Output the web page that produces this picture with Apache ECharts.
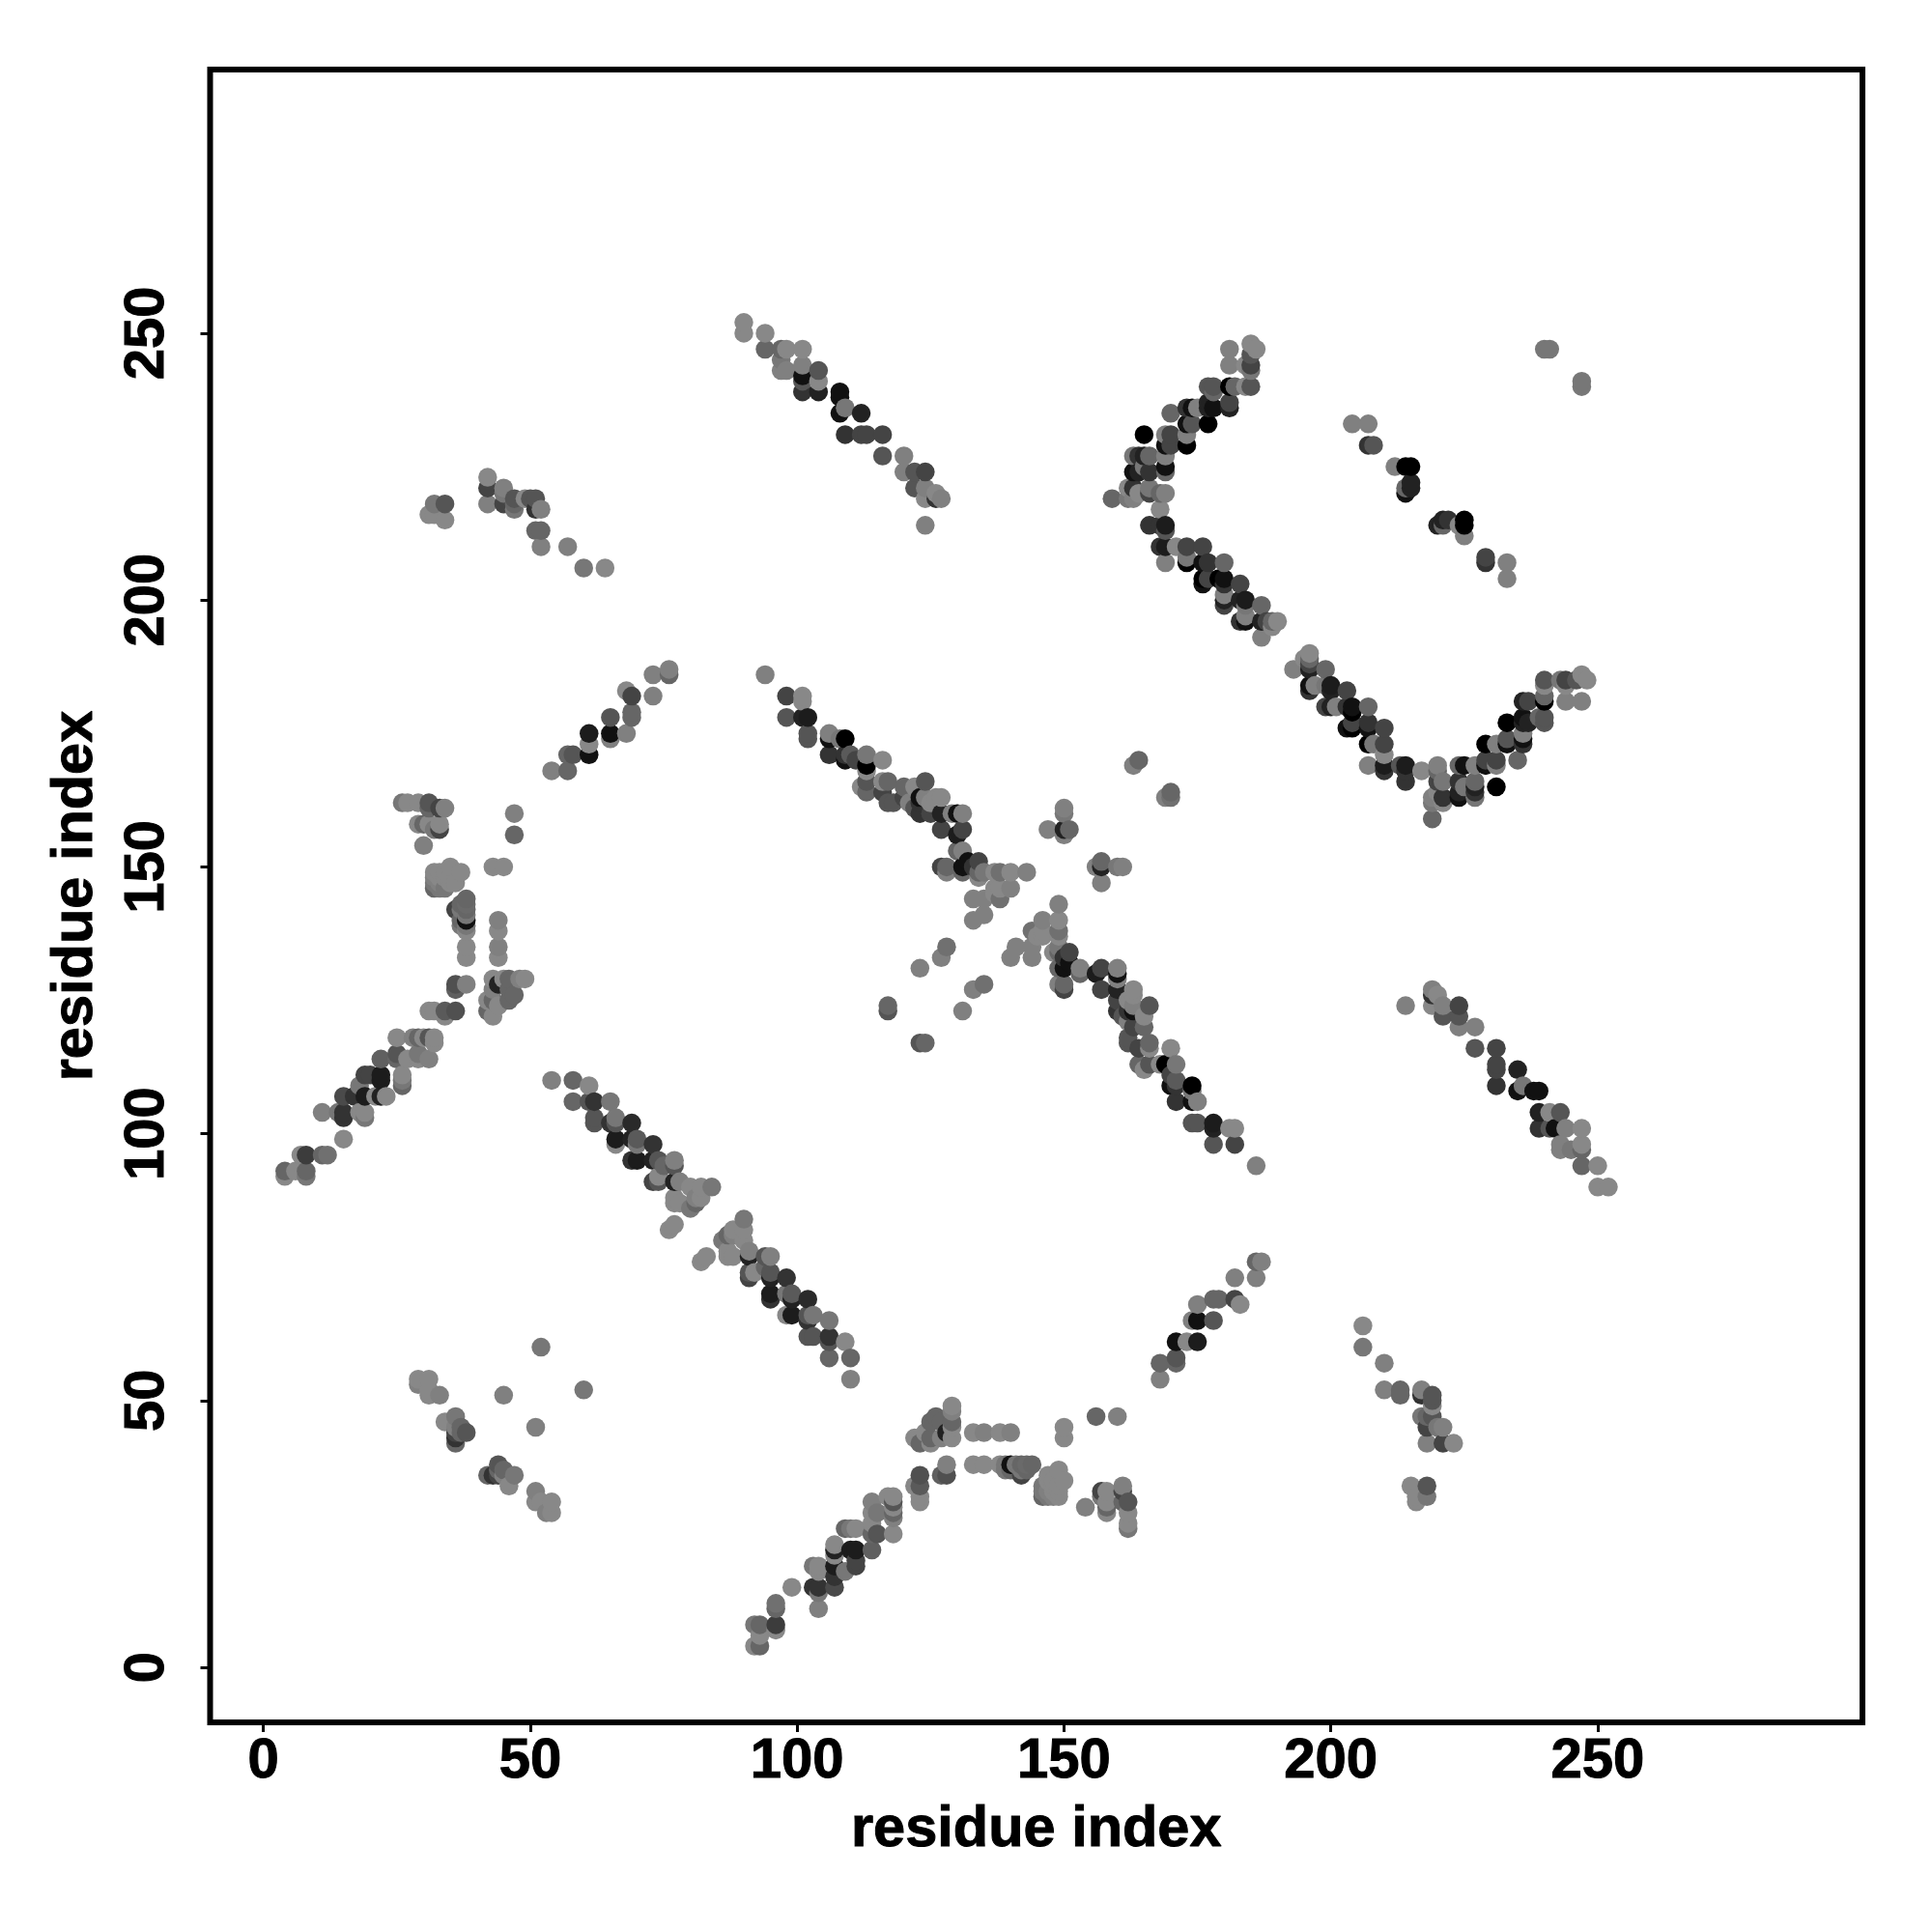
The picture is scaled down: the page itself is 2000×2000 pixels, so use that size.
<!DOCTYPE html>
<html><head><meta charset="utf-8">
<style>html,body{margin:0;background:#fff}#c{width:2000px;height:2000px}</style>
<script src="https://cdn.jsdelivr.net/npm/echarts@6/dist/echarts.min.js"></script>
</head><body><div id="c"></div>
<script>
const tickValues = [0,50,100,150,200,250];
const axisTitle = 'residue index';
// each contact: [residue i, residue j, score]
const leftBand = [[4,92,136],[4,93,102],[6,93,136],[7,96,136],[8,92,119],[8,93,102],[8,96,60],[11,96,102],[12,96,112],[15,99,136],[11,104,128],[14,104,119],[15,103,51],[15,104,51],[15,107,74],[18,104,136],[19,103,119],[19,104,136],[18,109,119],[19,111,68],[17,107,51],[19,107,28],[21,107,136],[22,107,34],[23,107,136],[20,111,68],[22,110,28],[22,111,28],[22,114,96],[26,109,102],[26,110,119],[26,111,136],[25,114,102],[25,115,85],[27,114,136],[29,114,136],[29,115,119],[31,114,128],[25,118,136],[28,118,128],[29,118,102],[30,118,136],[31,118,85],[32,117,136],[32,118,136],[31,123,136],[32,123,136],[34,122,136],[34,123,90],[36,123,80],[36,127,96],[36,128,80],[38,128,128],[38,133,136],[38,135,136],[38,138,136],[38,139,119],[37,139,119],[38,140,17],[38,141,119],[38,142,102],[37,142,119],[37,143,102],[38,143,106],[38,144,102],[36,142,68],[37,140,102],[32,146,102],[32,147,119],[32,148,128],[32,149,136],[33,146,119],[33,147,128],[33,148,136],[33,149,136],[34,146,119],[34,148,136],[34,149,136],[35,147,136],[35,148,136],[36,147,136],[35,150,136],[37,149,136],[43,150,136],[45,150,136],[44,133,136],[44,135,128],[44,138,136],[44,140,128],[43,129,136],[44,128,34],[45,129,136],[46,129,102],[48,129,128],[49,129,136],[46,125,102],[46,127,102],[47,126,102],[42,125,136],[43,125,102],[42,123,102],[43,122,136],[44,124,136],[43,127,128],[26,162,119],[27,162,136],[29,162,136],[31,162,85],[31,161,102],[33,161,68],[34,161,128],[29,158,136],[30,158,102],[31,158,136],[33,158,136],[33,157,68],[32,157,119],[30,154,128],[47,160,128],[47,156,102]];
const bottomBand = [[92,4,136],[93,4,102],[93,6,136],[96,7,136],[92,8,119],[93,8,102],[96,8,60],[96,11,102],[96,12,112],[99,15,136],[104,11,128],[104,14,119],[103,15,51],[104,15,51],[107,15,74],[104,18,136],[103,19,119],[104,19,136],[109,18,119],[111,19,68],[107,17,51],[107,19,28],[107,21,136],[107,22,34],[107,23,136],[111,20,68],[110,22,28],[111,22,28],[114,22,96],[109,26,102],[110,26,119],[111,26,136],[114,25,102],[115,25,85],[114,27,136],[114,29,136],[115,29,119],[114,31,128],[118,25,136],[118,28,128],[118,29,102],[118,30,136],[118,31,85],[117,32,136],[118,32,136],[123,31,136],[123,32,136],[122,34,136],[123,34,90],[123,36,80],[127,36,96],[128,36,80],[128,38,128],[133,38,136],[135,38,136],[138,38,136],[139,38,119],[139,37,119],[140,38,17],[141,38,119],[142,38,102],[142,37,119],[143,37,102],[143,38,106],[144,38,102],[142,36,68],[140,37,102],[146,32,102],[147,32,119],[148,32,128],[149,32,136],[146,33,119],[147,33,128],[148,33,136],[149,33,136],[146,34,119],[148,34,136],[149,34,136],[147,35,136],[148,35,136],[147,36,136],[150,35,136],[149,37,136],[150,43,136],[150,45,136],[133,44,136],[135,44,128],[138,44,136],[140,44,128],[129,43,136],[128,44,34],[129,45,136],[129,46,102],[129,48,128],[129,49,136],[125,46,102],[127,46,102],[126,47,102],[125,42,136],[125,43,102],[123,42,102],[122,43,136],[124,44,136],[127,43,128],[162,26,119],[162,27,136],[162,29,136],[162,31,85],[161,31,102],[161,33,68],[161,34,128],[158,29,136],[158,30,102],[158,31,136],[158,33,136],[157,33,68],[157,32,119],[154,30,128],[160,47,128],[156,47,102]];
const shortBand = [[54,168,128],[57,168,102],[57,171,102],[58,171,85],[61,171,17],[61,173,136],[61,175,28],[65,174,128],[65,175,17],[65,178,85],[68,175,128],[69,178,102],[69,179,102],[68,183,136],[69,182,68],[73,182,128],[73,186,128],[76,186,102],[76,187,128]];
const shortBandLower = [[168,54,128],[168,57,102],[171,57,102],[171,58,85],[171,61,17],[173,61,136],[175,61,28],[174,65,128],[175,65,17],[178,65,85],[175,68,128],[178,69,102],[179,69,102],[183,68,136],[182,69,68],[182,73,128],[186,73,128],[186,76,102],[187,76,128]];
const crossBandUpper = [[54,110,128],[58,110,102],[61,109,136],[58,106,102],[61,106,85],[62,106,51],[65,106,119],[62,103,85],[62,102,85],[65,102,51],[66,103,119],[66,102,85],[69,102,42],[66,99,28],[66,98,136],[69,99,34],[70,99,90],[70,98,119],[73,98,51],[69,95,51],[70,95,28],[73,95,34],[74,95,85],[75,94,102],[77,95,128],[77,94,85],[73,91,68],[74,92,136],[74,91,85],[77,91,34],[78,91,128],[80,90,136],[82,90,136],[84,90,119],[77,88,136],[78,87,136],[77,87,136],[80,86,119],[81,87,102],[81,88,128],[82,88,136],[77,83,136],[76,82,136]];
const crossBandLower = [[110,54,128],[110,58,102],[109,61,136],[106,58,102],[106,61,85],[106,62,51],[106,65,119],[103,62,85],[102,62,85],[102,65,51],[103,66,119],[102,66,85],[102,69,42],[99,66,28],[98,66,136],[99,69,34],[99,70,90],[98,70,119],[98,73,51],[95,69,51],[95,70,28],[95,73,34],[95,74,85],[94,75,102],[95,77,128],[94,77,85],[91,73,68],[92,74,136],[91,74,85],[91,77,34],[91,78,128],[90,80,136],[90,82,136],[90,84,119],[88,77,136],[87,78,136],[87,77,136],[86,80,119],[87,81,102],[88,81,128],[88,82,136],[83,77,136],[82,76,136]];
const centreBandUpper = [[94,186,128],[98,182,68],[101,182,136],[101,181,136],[98,178,85],[101,178,34],[102,178,28],[102,175,85],[102,174,85],[106,175,128],[106,174,17],[108,174,119],[109,174,0],[106,171,51],[109,170,17],[109,171,51],[110,171,90],[113,171,119],[113,169,0],[111,170,68],[113,168,136],[116,170,136],[112,165,136],[113,166,85],[113,164,102],[116,166,136],[117,166,102],[116,164,68],[117,162,85],[118,162,85],[120,165,102],[122,165,136],[124,166,85],[120,163,68],[121,162,128],[123,163,17],[123,162,51],[124,163,128],[123,160,51],[122,161,85],[126,163,136],[127,163,136],[125,162,136],[125,160,68],[127,160,34],[129,160,128],[130,160,17],[131,160,128],[127,157,68],[130,156,28],[131,157,68],[130,153,102],[131,153,128],[127,150,68],[128,150,102],[128,149,128],[131,150,17],[131,149,102],[132,151,17],[134,151,68],[133,150,51],[134,149,102],[135,149,119],[137,149,136],[138,149,112],[140,149,136],[143,149,128],[134,148,136],[137,146,136],[138,146,136],[140,146,128],[133,144,128],[135,144,128],[138,144,112],[137,145,136],[133,140,128],[135,141,128]];
const centreBandLower = [[186,94,128],[182,98,68],[182,101,136],[181,101,136],[178,98,85],[178,101,34],[178,102,28],[175,102,85],[174,102,85],[175,106,128],[174,106,17],[174,108,119],[174,109,0],[171,106,51],[170,109,17],[171,109,51],[171,110,90],[171,113,119],[169,113,0],[170,111,68],[168,113,136],[170,116,136],[165,112,136],[166,113,85],[164,113,102],[166,116,136],[166,117,102],[164,116,68],[162,117,85],[162,118,85],[165,120,102],[165,122,136],[166,124,85],[163,120,68],[162,121,128],[163,123,17],[162,123,51],[163,124,128],[160,123,51],[161,122,85],[163,126,136],[163,127,136],[162,125,136],[160,125,68],[160,127,34],[160,129,128],[160,130,17],[160,131,128],[157,127,68],[156,130,28],[157,131,68],[153,130,102],[153,131,128],[150,127,68],[150,128,102],[149,128,128],[150,131,17],[149,131,102],[151,132,17],[151,134,68],[150,133,51],[149,134,102],[149,135,119],[149,137,136],[149,138,112],[149,140,136],[149,143,128],[148,134,136],[146,137,136],[146,138,136],[146,140,128],[144,133,128],[144,135,128],[144,138,112],[145,137,136],[140,133,128],[141,135,128]];
const nearCentre = [[147,157,128],[150,161,128],[150,160,119],[150,157,34],[151,157,102],[150,156,128],[157,147,128],[161,150,128],[160,150,119],[157,150,34],[157,151,102],[156,150,128],[117,123,85],[117,124,102],[123,117,85],[124,117,102],[123,131,128],[127,133,128],[128,135,112],[131,123,128],[133,127,128],[135,128,112],[163,169,128],[164,170,102],[169,163,128],[170,164,102],[170,163,112]];
const farBandUpper = [[90,252,136],[90,250,136],[94,250,136],[94,247,102],[97,247,102],[98,247,136],[97,243,128],[97,245,119],[98,243,128],[101,247,136],[101,244,128],[101,242,17],[101,241,85],[101,239,51],[104,243,85],[104,239,34],[104,241,136],[108,239,17],[108,238,17],[108,235,17],[109,236,119],[112,235,34],[109,231,51],[112,231,68],[113,231,68],[116,231,68],[116,227,85],[120,227,128],[120,224,128],[122,224,85],[124,224,68],[122,221,85],[124,221,128],[124,219,136],[126,220,136],[126,219,51],[127,219,128],[124,214,128]];
const farBandLower = [[252,90,136],[250,90,136],[250,94,136],[247,94,102],[247,97,102],[247,98,136],[243,97,128],[245,97,119],[243,98,128],[247,101,136],[244,101,128],[242,101,17],[241,101,85],[239,101,51],[243,104,85],[239,104,34],[241,104,136],[239,108,17],[238,108,17],[235,108,17],[236,109,119],[235,112,34],[231,109,51],[231,112,68],[231,113,68],[231,116,68],[227,116,85],[227,120,128],[224,120,128],[224,122,85],[224,124,68],[221,122,85],[221,124,128],[219,124,136],[220,126,136],[219,126,51],[219,127,128],[214,124,128]];
const armUpper = [[185,248,136],[186,247,136],[181,247,128],[185,246,85],[181,244,128],[184,244,136],[185,244,68],[185,243,119],[185,240,85],[184,240,136],[182,240,102],[181,240,0],[178,240,85],[177,240,85],[178,239,102],[181,237,68],[181,236,34],[177,237,34],[178,236,17],[177,236,34],[177,233,0],[173,236,51],[174,236,17],[175,236,128],[170,235,102],[173,233,17],[174,233,85],[173,231,128],[173,229,0],[170,231,68],[169,231,128],[170,229,68],[169,229,17],[169,227,128],[169,225,17],[169,224,102],[166,227,102],[165,227,34],[164,227,51],[163,227,119],[163,224,17],[164,224,34],[165,225,119],[166,224,51],[162,221,136],[162,219,119],[163,221,51],[163,219,128],[159,219,102],[166,221,119],[166,220,68],[164,220,136],[168,220,102],[169,220,128],[168,217,136],[165,231,0]];
const armLower = [[248,185,136],[247,186,136],[247,181,128],[246,185,85],[244,181,128],[244,184,136],[244,185,68],[243,185,119],[240,185,85],[240,184,136],[240,182,102],[240,181,0],[240,178,85],[240,177,85],[239,178,102],[237,181,68],[236,181,34],[237,177,34],[236,178,17],[236,177,34],[233,177,0],[236,173,51],[236,174,17],[236,175,128],[235,170,102],[233,173,17],[233,174,85],[231,173,128],[229,173,0],[231,170,68],[231,169,128],[229,170,68],[229,169,17],[227,169,128],[225,169,17],[224,169,102],[227,166,102],[227,165,34],[227,164,51],[227,163,119],[224,163,17],[224,164,34],[225,165,119],[224,166,51],[221,162,136],[219,162,119],[221,163,51],[219,163,128],[219,159,102],[221,166,119],[220,166,68],[220,164,136],[220,168,102],[220,169,128],[217,168,136],[231,165,0]];
const longBandUpper = [[166,214,51],[168,214,51],[169,214,28],[169,213,85],[168,210,51],[169,210,28],[169,207,128],[171,210,136],[173,210,68],[176,210,68],[173,207,0],[173,208,119],[176,207,17],[177,207,51],[180,207,102],[176,204,0],[177,204,68],[179,204,0],[180,204,17],[183,203,68],[180,201,128],[180,199,68],[180,200,34],[183,200,34],[184,200,28],[184,199,119],[184,197,128],[183,196,51],[187,199,102],[187,196,34],[189,196,102],[190,196,136],[187,193,128],[189,195,136],[188,196,68],[184,196,17],[176,203,17],[180,203,51]];
const longBandLower = [[214,166,51],[214,168,51],[214,169,28],[213,169,85],[210,168,51],[210,169,28],[207,169,128],[210,171,136],[210,173,68],[210,176,68],[207,173,0],[208,173,119],[207,176,17],[207,177,51],[207,180,102],[204,176,0],[204,177,68],[204,179,0],[204,180,17],[203,183,68],[201,180,128],[199,180,68],[200,180,34],[200,183,34],[200,184,28],[199,184,119],[197,184,128],[196,183,51],[199,187,102],[196,187,34],[196,189,102],[196,190,136],[193,187,128],[195,189,136],[196,188,68],[196,184,17],[203,176,17],[203,180,51]];
const upperLeftCluster = [[31,216,136],[32,218,119],[34,218,85],[34,215,136],[32,216,136],[42,223,136],[42,221,68],[42,218,128],[45,221,128],[45,220,119],[45,218,68],[47,218,102],[47,217,119],[49,219,136],[47,219,85],[50,219,85],[51,219,85],[51,217,51],[52,217,128],[51,213,102],[52,213,102],[52,210,128],[57,210,128],[60,206,119],[64,206,136]];
const lowerRightCluster = [[216,31,136],[218,32,119],[218,34,85],[215,34,136],[216,32,136],[223,42,136],[221,42,68],[218,42,128],[221,45,128],[220,45,119],[218,45,68],[218,47,102],[217,47,119],[219,49,136],[219,47,85],[219,50,85],[219,51,85],[217,51,51],[217,52,128],[213,51,102],[213,52,102],[210,52,128],[210,57,128],[206,60,119],[206,64,136]];
const cornerBand = [[29,54,136],[29,53,128],[31,54,136],[31,52,136],[31,51,136],[33,51,128],[34,46,136],[36,47,119],[37,45,102],[36,43,51],[36,42,102],[36,44,68],[38,44,85],[36,45,128],[37,44,102],[54,29,136],[53,29,128],[54,31,136],[52,31,136],[51,31,136],[51,33,128],[46,34,136],[47,36,119],[45,37,102],[43,36,51],[42,36,102],[44,36,68],[44,38,85],[45,36,128],[44,37,102],[52,60,119],[60,52,119],[45,51,128],[51,45,128]];
const upperRightBand = [[204,233,128],[207,233,128],[207,229,51],[208,229,85],[212,225,128],[214,225,0],[215,225,0],[215,222,34],[214,220,17],[214,221,102],[215,221,34],[220,214,34],[222,215,51],[221,214,102],[221,215,34],[225,215,0],[225,214,0],[224,214,136],[225,212,128],[229,208,68],[229,207,51],[233,207,128],[233,204,128],[240,247,119],[241,247,119],[247,240,119],[247,241,119]];

const contacts = [].concat(leftBand,bottomBand,shortBand,shortBandLower,crossBandUpper,crossBandLower,centreBandUpper,centreBandLower,nearCentre,farBandUpper,farBandLower,armUpper,armLower,longBandUpper,longBandLower,upperLeftCluster,lowerRightCluster,cornerBand,upperRightBand)
  .sort((a,b)=>a[0]-b[0]||a[1]-b[1]);

const font = {fontFamily:'"Liberation Sans"',fontWeight:'bold',color:'#000',textBorderColor:'#000',textBorderWidth:1};
const chart = echarts.init(document.getElementById('c'),null,{renderer:'canvas'});
chart.setOption({
  animation:false,
  backgroundColor:'#fff',
  grid:{left:217.5,right:72,top:72,bottom:217,show:true,borderColor:'#000',borderWidth:6,backgroundColor:'transparent'},
  visualMap:{show:false,dimension:2,min:0,max:136,inRange:{color:['#000000','#888888']},seriesIndex:0},
  xAxis:{type:'value',min:-10,max:299.6,name:axisTitle,nameLocation:'middle',nameGap:82,
    nameTextStyle:{...font,fontSize:59.5},
    axisLine:{show:false,onZero:false},splitLine:{show:false},
    axisTick:{show:true,length:10,lineStyle:{color:'#000',width:3},customValues:tickValues},
    axisLabel:{...font,fontSize:58,margin:12,customValues:tickValues,formatter:v=>String(v)}},
  yAxis:{type:'value',min:-10.3,max:299.4,name:axisTitle,nameLocation:'middle',nameGap:109,nameRotate:90,
    nameTextStyle:{...font,fontSize:59.5},
    axisLine:{show:false,onZero:false},splitLine:{show:false},
    axisTick:{show:true,length:10,lineStyle:{color:'#000',width:3},customValues:tickValues},
    axisLabel:{...font,fontSize:58,margin:36,rotate:90,customValues:tickValues,formatter:v=>String(v)}},
  series:[{type:'scatter',symbol:'circle',symbolSize:19.5,data:contacts,clip:true,silent:true,
    itemStyle:{opacity:1,borderWidth:0},progressive:0,large:false}]
});
</script></body></html>
